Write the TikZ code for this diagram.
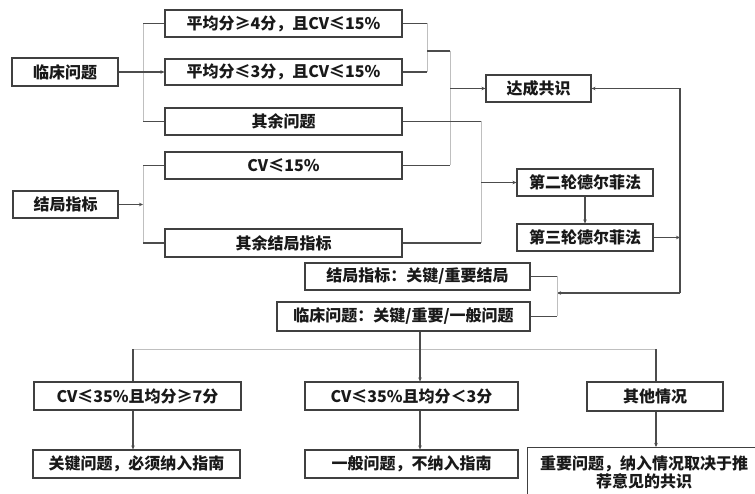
\documentclass[tikz,border=0pt]{standalone}
\usepackage{fontspec}
\setmainfont{Noto Sans CJK SC}
\usetikzlibrary{arrows.meta}
\begin{document}
\begin{tikzpicture}[x=1pt,y=-1pt,
  box/.style={draw=black!75,line width=1.1pt,inner sep=0pt,align=center,
    font=\fontsize{16}{17.5}\selectfont\bfseries,text=black!90,minimum height=27pt},
  ln/.style={draw=black!70,line width=1.1pt},
  faint/.style={draw=black!25,line width=0.8pt},
  arr/.style={ln,-{Stealth[length=4pt,width=3.5pt]}}
]
\useasboundingbox[fill=white] (0,0) rectangle (755,494);
% left column
\node[box,minimum width=106pt,minimum height=28pt] (lc) at (65,72) {临床问题};
\node[box,minimum width=105pt] (jj) at (65.5,204.5) {结局指标};
% middle column
\node[box,minimum width=237pt] (b1) at (283.5,23.5) {平均分≥4分，且CV≤15\%};
\node[box,minimum width=237pt,minimum height=26pt] (b2) at (283.5,72) {平均分≤3分，且CV≤15\%};
\node[box,minimum width=237pt] (b3) at (283.5,121.5) {其余问题};
\node[box,minimum width=237pt] (b4) at (283.5,165.5) {CV≤15\%};
\node[box,minimum width=237pt,minimum height=28pt] (b5) at (283.5,243) {其余结局指标};
% right
\node[box,minimum width=105pt] (gs) at (538.5,88.5) {达成共识};
\node[box,minimum width=136pt] (d2) at (585,182.5) {第二轮德尔菲法};
\node[box,minimum width=136pt] (d3) at (585,237.5) {第三轮德尔菲法};
\node[box,minimum width=225pt] (r1) at (417.5,276.5) {结局指标：关键/重要结局};
\node[box,minimum width=253pt,minimum height=29pt] (r2) at (403.5,316.5) {临床问题：关键/重要/一般问题};
% bottom
\node[box,minimum width=207pt,minimum height=28pt] (c1) at (137.5,396) {CV≤35\%且均分≥7分};
\node[box,minimum width=213pt,minimum height=28pt] (c2) at (411.5,396) {CV≤35\%且均分＜3分};
\node[box,minimum width=136pt,minimum height=29pt] (c3) at (655,396.5) {其他情况};
\node[box,minimum width=207pt,minimum height=28pt] (o1) at (136.5,464) {关键问题，必须纳入指南};
\node[box,minimum width=213pt,minimum height=28pt] (o2) at (411.5,464) {一般问题，不纳入指南};
\node[box,minimum width=233pt,minimum height=50pt,anchor=north west,
  text width=230pt] (o3) at (527,447)
  {重要问题，纳入情况取决于推\\荐意见的共识};

% coordinates
\coordinate (xl) at (143,0);
\coordinate (xa) at (427,0);
\coordinate (xb) at (450,0);
\coordinate (xc) at (481,0);
\coordinate (xd) at (680,0);
\coordinate (xe) at (557,0);
\coordinate (ya) at (0,51);
\coordinate (yr) at (0,293);
\coordinate (yh) at (0,349);
\coordinate (xm) at (420,0);
\coordinate (x1) at (133,0);
\coordinate (x3) at (656,0);

% left brackets
\draw[faint] (xl |- b1.west) -- (xl |- b3.west);
\draw[ln] (xl |- b1.west) -- (b1.west);
\draw[ln] (xl |- b3.west) -- (b3.west);
\draw[arr] (lc.east) -- (b2.west);
\draw[faint] (xl |- b4.west) -- (xl |- b5.west);
\draw[ln] (xl |- b4.west) -- (b4.west);
\draw[ln] (xl |- b5.west) -- (b5.west);
\draw[arr] (jj.east) -- (xl |- jj.east);

% right of middle column
\draw[ln] (b1.east) -- (xa |- b1.east);
\draw[ln] (b2.east) -- (xa |- b2.east);
\draw[faint] (xa |- b1.east) -- (xa |- b2.east);
\draw[ln] (xa |- ya) -- (xb |- ya);
\draw[faint] (xb |- ya) -- (xb |- b4.east);
\draw[ln] (b4.east) -- (xb |- b4.east);
\draw[arr] (xb |- gs.west) -- (gs.west);
\draw[ln] (b3.east) -- (xc |- b3.east);
\draw[ln] (b5.east) -- (xc |- b5.east);
\draw[faint] (xc |- b3.east) -- (xc |- b5.east);
\draw[arr] (xc |- d2.west) -- (d2.west);
\draw[arr] (d2.south) -- (d3.north);

% feedback loop
\draw[arr] (d3.east) -- (xd |- d3.east);
\draw[ln] (xd |- yr) -- (xd |- gs.east);
\draw[arr] (xd |- gs.east) -- (gs.east);
\draw[arr] (xd |- yr) -- (xe |- yr);
\draw[ln] (r1.east) -- (xe |- r1.east);
\draw[ln] (r2.east) -- (xe |- r2.east);
\draw[faint] (xe |- r1.east) -- (xe |- r2.east);

% bottom tree
\draw[faint] (x1 |- yh) -- (x3 |- yh);
\draw[arr] (xm |- r2.south) -- (xm |- c2.north);
\draw[ln] (x1 |- yh) -- (x1 |- c1.north);
\draw[ln] (x3 |- yh) -- (x3 |- c3.north);
\draw[arr] (x1 |- c1.south) -- (x1 |- o1.north);
\draw[arr] (xm |- c2.south) -- (xm |- o2.north);
\draw[arr] (x3 |- c3.south) -- (x3 |- o3.north);
\end{tikzpicture}
\end{document}
